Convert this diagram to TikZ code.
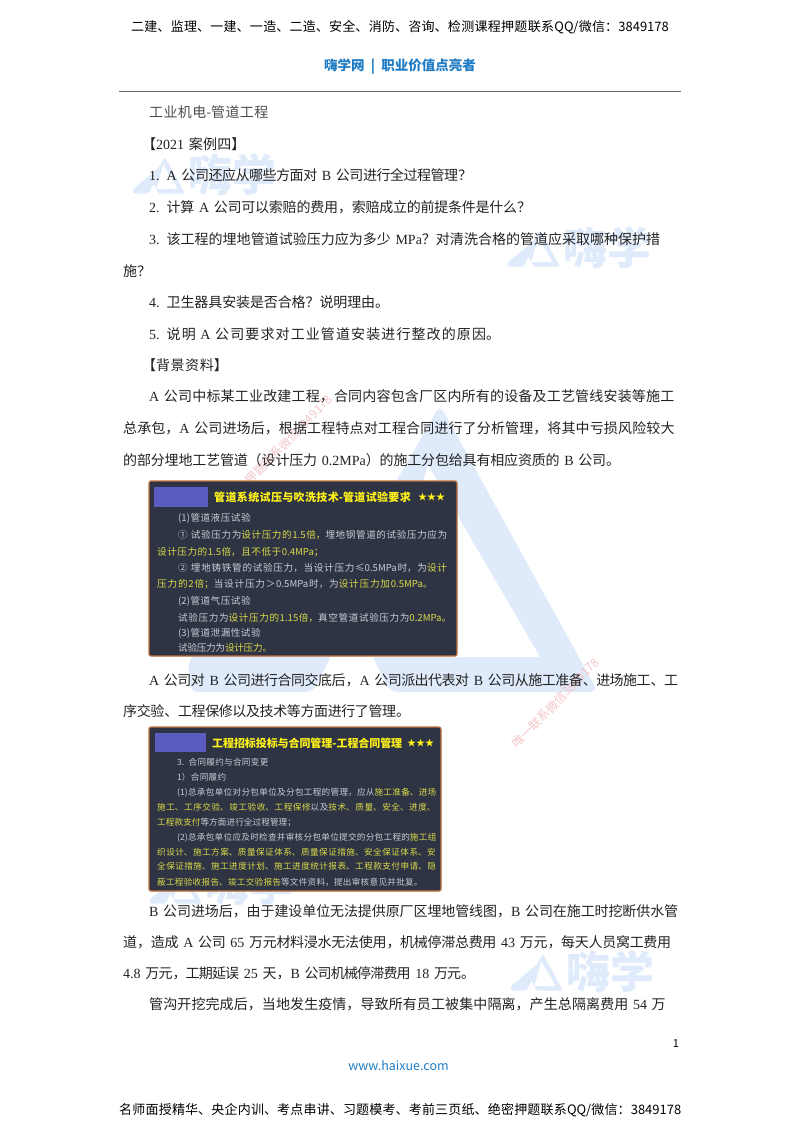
\documentclass[tikz,border=0pt]{standalone}
\usepackage{fontspec}
\usepackage{xcolor}
\setmainfont{Noto Sans CJK SC}
\newfontfamily\latserif{Liberation Serif}
\XeTeXlinebreaklocale "zh"
\XeTeXlinebreakskip=0pt plus 6pt minus 1pt
\definecolor{wmblue}{HTML}{DFEBFB}
\definecolor{wmpink}{HTML}{F3C4C6}
\definecolor{linkblue}{HTML}{1F7CC4}
\definecolor{bodygray}{HTML}{222222}
\definecolor{panelbg}{HTML}{2E3444}
\definecolor{paneledge}{HTML}{C0703A}
\definecolor{paneltag}{HTML}{5A5CC0}
\definecolor{paneltext}{HTML}{C8CCD2}
\definecolor{panelhi}{HTML}{DADA48}
\newcommand{\lat}[1]{{\latserif #1}}
\newcommand{\hi}[1]{{\color{panelhi}#1}}
\tikzset{
  fitline/.style={anchor=west, inner sep=0pt, text width=#1,
    execute at begin node={\parfillskip=0pt \tolerance=10000 \hbadness=10000 \emergencystretch=20pt}},
  bodyline/.style={fitline=#1, font=\fontsize{14}{16}\selectfont, text=bodygray, text height=12pt, text depth=2pt},
  edgeline/.style={fitline=#1, font=\fontsize{13}{15}\selectfont, text=black, text height=13pt, text depth=2pt},
  panela/.style={fitline=#1, font=\fontsize{9.6}{11}\selectfont, text=paneltext, text height=8pt, text depth=2pt},
  panelb/.style={fitline=#1, font=\fontsize{8.6}{10}\selectfont, text=paneltext, text height=7pt, text depth=2pt},
  paneltitle/.style={fitline=#1, font=\fontsize{11}{13}\selectfont\bfseries, text=yellow!90!white},
  panelstar/.style={anchor=west, inner sep=0pt, font=\fontsize{9}{11}\selectfont, text=yellow!90!white},
  panelbox/.style={draw=paneledge, line width=1.2pt, fill=panelbg, rounded corners=2pt, inner sep=0pt},
  paneltagbox/.style={fill=paneltag, inner sep=0pt},
  wmtext/.style={anchor=west, inner sep=0pt, text=wmblue, font=\fontsize{44}{46}\selectfont\bfseries},
  wmline/.style={anchor=east, inner sep=0pt, rotate=46, text=wmpink, font=\fontsize{12}{14}\selectfont},
  pics/wmmark/.style={code={
    \fill[wmblue, rounded corners=#1] (250,0) -- (408,287) -- (200,287) -- (162,209) -- (123,287)
      -- (0,287) -- (-2,255) -- (203,82) -- cycle;
    \fill[white] (350,252) -- (238,60) -- (183,252) -- cycle;
  }}
}
\begin{document}
\begin{tikzpicture}[x=1pt, y=-1pt]
\useasboundingbox (0,0) rectangle (800,1132);
% watermarks
\pic at (190,405) {wmmark=8};
\foreach \nm/\x/\y in {a/133/157, b/508/230, c/511/954, d/150/867} {
  \pic[scale=.1275] at (\x,\y) {wmmark=1.5};
  \node[wmtext] (wm\nm) at (\x+55,\y+18) {嗨学};
}
\node[wmline] (wmpinka) at (330,397) {唯一押题联系微信3849178};
\node[wmline] (wmpinkb) at (597,660) {唯一联系微信3849178};
% header
\node[edgeline=539] (headtop) at (131,26) {二建、监理、一建、一造、二造、安全、消防、咨询、检测课程押题联系QQ/微信：3849178};
\node[anchor=center, inner sep=0pt, text=linkblue, font=\fontsize{13.5}{15}\selectfont\bfseries] (headsub) at (400,67) {嗨学网\ \ |\ \ 职业价值点亮者};
\coordinate (rulel) at (119,91);
\coordinate (ruler) at (681,91);
\draw[gray!80!black, line width=1pt] (rulel) -- (ruler);
% questions
\node[bodyline=121, text=black!70] (topic) at (149,112) {工业机电-管道工程};
\node[bodyline=104] (casehead) at (142,144) {【\lat{2021} 案例四】};
\node[bodyline=323] (qa) at (149,175) {\lat{1.} \lat{A} 公司还应从哪些方面对 \lat{B} 公司进行全过程管理？};
\node[bodyline=382] (qb) at (149,207) {\lat{2.} 计算 \lat{A} 公司可以索赔的费用，索赔成立的前提条件是什么？};
\node[bodyline=511] (qc) at (149,239) {\lat{3.} 该工程的埋地管道试验压力应为多少 \lat{MPa}？对清洗合格的管道应采取哪种保护措};
\node[bodyline=34] (qcend) at (123,271) {施？};
\node[bodyline=240] (qd) at (149,302) {\lat{4.} 卫生器具安装是否合格？说明理由。};
\node[bodyline=356] (qe) at (149,334) {\lat{5.} 说明 \lat{A} 公司要求对工业管道安装进行整改的原因。};
% background
\node[bodyline=88] (bghead) at (142,365) {【背景资料】};
\node[bodyline=526] (bga) at (149,396) {\lat{A} 公司中标某工业改建工程，合同内容包含厂区内所有的设备及工艺管线安装等施工};
\node[bodyline=552] (bgb) at (123,428) {总承包，\lat{A} 公司进场后，根据工程特点对工程合同进行了分析管理，将其中亏损风险较大};
\node[bodyline=497] (bgc) at (123,460) {的部分埋地工艺管道（设计压力 \lat{0.2MPa}）的施工分包给具有相应资质的 \lat{B} 公司。};
% first panel
\node[panelbox, minimum width=308, minimum height=175] (panelone) at (303,568.5) {};
\node[paneltagbox, minimum width=54, minimum height=20] (tagone) at (181,497) {};
\node[paneltitle=198] (titleone) at (214,497) {管道系统试压与吹洗技术-管道试验要求};
\node[panelstar] (starone) at (418,497) {★★★};
\node[panela=74] (pa) at (178,518) {(1)管道液压试验};
\node[panela=271] (pb) at (178,535) {① 试验压力为\hi{设计压力的1.5倍，}埋地钢管道的试验压力应为};
\node[panela=168] (pc) at (157,552) {\hi{设计压力的1.5倍，且不低于0.4MPa；}};
\node[panela=271] (pd) at (178,568) {② 埋地铸铁管的试验压力，当设计压力≤0.5MPa时，为\hi{设计}};
\node[panela=278] (pe) at (157,584) {\hi{压力的2倍；}当设计压力＞0.5MPa时，为\hi{设计压力加0.5MPa。}};
\node[panela=74] (pf) at (178,601) {(2)管道气压试验};
\node[panela=275] (pg) at (178,618) {试验压力为\hi{设计压力的1.15倍，}真空管道试验压力为\hi{0.2MPa。}};
\node[panela=84] (ph) at (178,633) {(3)管道泄漏性试验};
\node[panela=94] (pi) at (178,648) {试验压力为\hi{设计压力。}};
% contract text
\node[bodyline=529] (cta) at (149,680) {\lat{A} 公司对 \lat{B} 公司进行合同交底后，\lat{A} 公司派出代表对 \lat{B} 公司从施工准备、进场施工、工};
\node[bodyline=287] (ctb) at (123,711) {序交验、工程保修以及技术等方面进行了管理。};
% second panel
\node[panelbox, minimum width=292, minimum height=164] (paneltwo) at (295,809) {};
\node[paneltagbox, minimum width=51, minimum height=19] (tagtwo) at (180.5,742.5) {};
\node[paneltitle=190] (titletwo) at (212,743) {工程招标投标与合同管理-工程合同管理};
\node[panelstar] (startwo) at (407,743) {★★★};
\node[panelb=92] (ra) at (177,763) {3. 合同履约与合同变更};
\node[panelb=50] (rb) at (177,778) {1）合同履约};
\node[panelb=260] (rc) at (177,793) {(1)总承包单位对分包单位及分包工程的管理，应从\hi{施工准备、进场}};
\node[panelb=280] (rd) at (157,808) {\hi{施工、工序交验、竣工验收、工程保修}以及\hi{技术、质量、安全、进度、}};
\node[panelb=139] (re) at (157,823) {\hi{工程款支付}等方面进行全过程管理；};
\node[panelb=260] (rf) at (177,838) {(2)总承包单位应及时检查并审核分包单位提交的分包工程的\hi{施工组}};
\node[panelb=280] (rg) at (157,853) {\hi{织设计、施工方案、质量保证体系、质量保证措施、安全保证体系、安}};
\node[panelb=280] (rh) at (157,867) {\hi{全保证措施、施工进度计划、施工进度统计报表、工程款支付申请、隐}};
\node[panelb=266] (ri) at (157,883) {\hi{蔽工程验收报告、竣工交验报告}等文件资料，提出审核意见并批复。};
% dispute text
\node[bodyline=529] (dta) at (149,911) {\lat{B} 公司进场后，由于建设单位无法提供原厂区埋地管线图，\lat{B} 公司在施工时挖断供水管};
\node[bodyline=548] (dtb) at (123,942) {道，造成 \lat{A} 公司 \lat{65} 万元材料浸水无法使用，机械停滞总费用 \lat{43} 万元，每天人员窝工费用};
\node[bodyline=352] (dtc) at (123,973) {\lat{4.8} 万元，工期延误 \lat{25} 天，\lat{B} 公司机械停滞费用 \lat{18} 万元。};
\node[bodyline=517] (dtd) at (149,1004) {管沟开挖完成后，当地发生疫情，导致所有员工被集中隔离，产生总隔离费用 \lat{54} 万};
% footer
\node[anchor=center, inner sep=0pt, font=\fontsize{11}{13}\selectfont] (pagenum) at (676,1044) {1};
\node[anchor=center, inner sep=0pt, text=linkblue, font=\fontsize{12.5}{15}\selectfont] (footurl) at (398.5,1066) {www.haixue.com};
\node[edgeline=563] (footline) at (119,1109) {名师面授精华、央企内训、考点串讲、习题模考、考前三页纸、绝密押题联系QQ/微信：3849178};
\end{tikzpicture}
\end{document}
